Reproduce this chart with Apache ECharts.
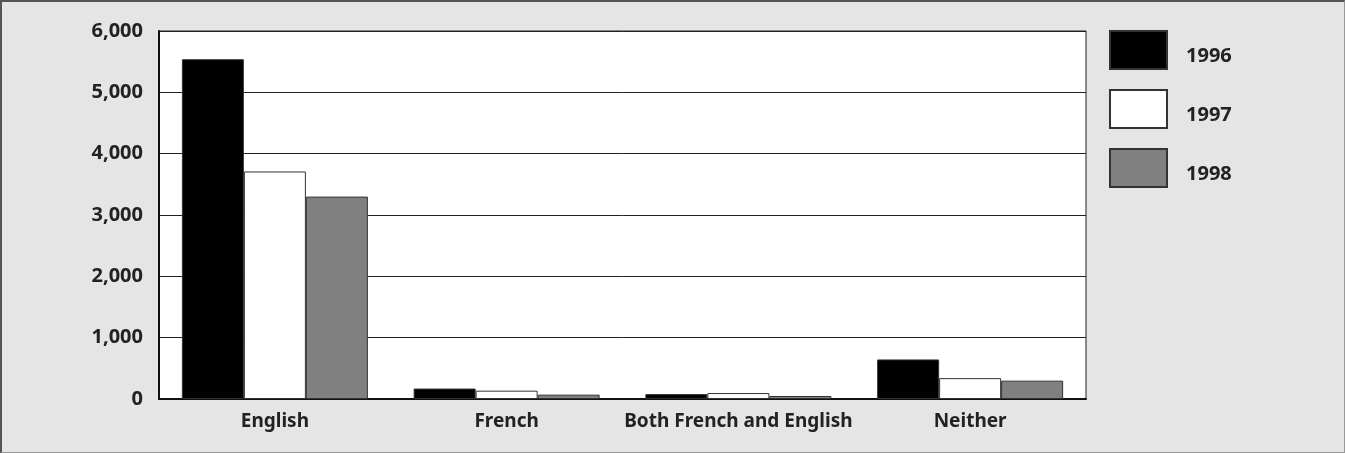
<!DOCTYPE html>
<html><head><meta charset="utf-8">
<script src="https://cdn.jsdelivr.net/npm/echarts@6/dist/echarts.min.js"></script>
<style>
html,body{margin:0;padding:0;background:#e5e5e5;}
#wrap{position:absolute;left:0;top:0;width:1345px;height:453px;box-sizing:border-box;border-top:2px solid #555;border-left:2px solid #555;border-right:1px solid #999;border-bottom:1px solid #999;background:#e5e5e5;}
#chart{position:absolute;left:-2px;top:-2px;width:1345px;height:453px;}
</style></head>
<body><div id="wrap"><div id="chart"></div></div>
<script>
const categories = ["English", "French", "Both French and English", "Neither"];
const seriesNames = ["1996", "1997", "1998"];
const values1996 = [5540, 170, 80, 645];
const values1997 = [3710, 136, 97, 340];
const values1998 = [3300, 71, 49, 299];
const yTicks = [0, 1000, 2000, 3000, 4000, 5000, 6000];

const colors = ["#000000", "#ffffff", "#808080"];
const FONT = "'Noto Sans', sans-serif";
const chart = echarts.init(document.getElementById('chart'), null, {renderer: 'canvas'});
const allValues = [values1996, values1997, values1998];
chart.setOption({
  animation: false,
  backgroundColor: 'transparent',
  textStyle: {fontFamily: FONT},
  grid: {left: 159, right: 259, top: 31, bottom: 54, show: true, backgroundColor: '#ffffff', borderColor: '#222', borderWidth: 1},
  legend: {
    orient: 'vertical', left: 1104, top: 25,
    itemWidth: 57, itemHeight: 38, itemGap: 19,
    icon: 'rect',
    data: seriesNames,
    formatter: name => '{t|' + name + '}',
    textStyle: {fontFamily: FONT, fontWeight: 'bold', fontSize: 20, color: '#222', padding: [0, 0, 0, 14],
      rich: {t: {fontFamily: FONT, fontWeight: 'bold', fontSize: 20, color: '#222', padding: [12, 0, 0, 0]}}}
  },
  xAxis: {
    type: 'category', data: categories,
    axisTick: {show: false},
    axisLine: {lineStyle: {color: '#111', width: 2}},
    axisLabel: {fontFamily: FONT, fontWeight: 'bold', fontSize: 19, color: '#222', margin: 13, interval: 0}
  },
  yAxis: {
    type: 'value', min: yTicks[0], max: yTicks[yTicks.length - 1], interval: 1000,
    axisLine: {show: true, lineStyle: {color: '#111', width: 2}},
    axisTick: {show: false},
    splitLine: {lineStyle: {color: '#222', width: 1}},
    axisLabel: {fontFamily: FONT, fontWeight: 'bold', fontSize: 20, color: '#222', margin: 16,
      formatter: v => v.toLocaleString('en-US')}
  },
  series: seriesNames.map((n, i) => ({
    name: n, type: 'bar', data: allValues[i],
    barWidth: 62, barGap: '0%',
    itemStyle: {color: colors[i], borderColor: '#333', borderWidth: 1}
  }))
});
</script></body></html>
